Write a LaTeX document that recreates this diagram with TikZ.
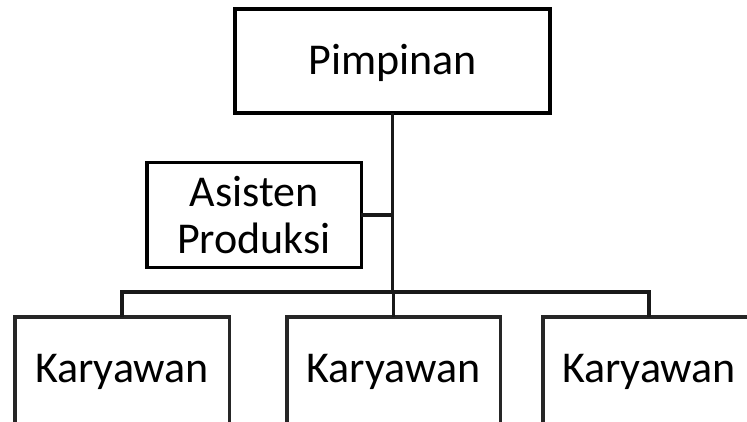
\documentclass[tikz,border=0pt]{standalone}
\usepackage{fontspec}
\setmainfont{Carlito}
\begin{document}
\begin{tikzpicture}[x=1pt,y=-1pt,
  box/.style={draw=black,line width=3.5pt,fill=white,inner sep=0pt,outer sep=0pt,
    font=\fontsize{44}{47}\selectfont,align=center},
  kbox/.style={box,draw=black!85,text height=65pt,text depth=60pt,anchor=north},
  conn/.style={draw=black!90,line width=3.5pt}]
\useasboundingbox (0,0) rectangle (747,422);
\clip (0,0) rectangle (747,422);
\node[box,line width=4pt,anchor=north,minimum width=315pt,text height=66pt,text depth=38pt] (pim) at (392.5,9) {Pimpinan};
\node[box,minimum width=214.5pt,minimum height=104.5pt] (asi) at (254,215) {Asisten\\Produksi};
\node[kbox,minimum width=214.5pt] (k1) at (122,317) {Karyawan};
\node[kbox,minimum width=213.5pt] (k2) at (393.5,317) {Karyawan};
\node[kbox,minimum width=212.5pt] (k3) at (649,317) {Karyawan};
\coordinate (bus) at (392.5,292);
\draw[conn] (pim.south) -- (bus);
\draw[conn] (asi.east) -- (asi.east -| pim.south);
\draw[conn] (k1.north) |- (bus) -| (k3.north);
\draw[conn] (bus) -- (bus -| k2.north) -- (k2.north);
\end{tikzpicture}
\end{document}
